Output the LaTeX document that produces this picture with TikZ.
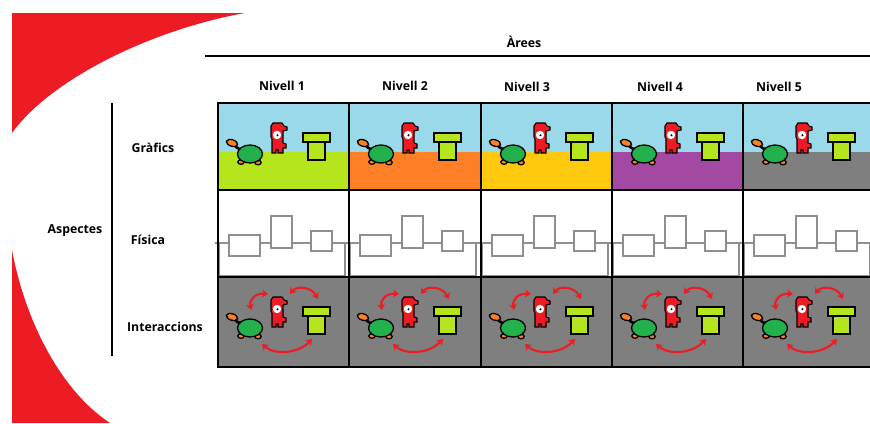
\documentclass[tikz,border=0pt]{standalone}
\usepackage{fontspec}
\setmainfont{Open Sans}
\usetikzlibrary{arrows.meta}

\definecolor{paintred}{HTML}{ED1C24}
\definecolor{sky}{HTML}{99D9EA}
\definecolor{lime}{HTML}{B5E61D}
\definecolor{tangerine}{HTML}{FF7F27}
\definecolor{amber}{HTML}{FFC90E}
\definecolor{plum}{HTML}{A349A4}
\definecolor{slate}{HTML}{7F7F7F}
\definecolor{shellgreen}{HTML}{22B14C}
\definecolor{wire}{HTML}{8E8E8E}

\tikzset{
  headtext/.style={font=\bfseries\fontsize{12.3}{14}\selectfont, inner sep=0pt},
  rulerline/.style={draw=black, line width=2.4pt},
  gridline/.style={draw=black, line width=2.6pt},
  outline/.style={draw=black, line width=1.3pt},
  wireline/.style={draw=wire, line width=2pt},
  bump/.style={draw=paintred, line width=2.1pt, {Stealth[length=6pt,width=8pt]}-{Stealth[length=6pt,width=8pt]}},
  % sprites, drawn in the coordinates of one cell (origin at its top-left corner)
  pics/turtle/.style={code={
    \draw[black, line width=2.6pt, line cap=round] (16,42) .. controls (19,45) and (21,46) .. (24,47);
    \filldraw[fill=tangerine, outline, rotate around={-18:(14,40)}] (14,40) ellipse[x radius=5.8pt, y radius=3.2pt];
    \filldraw[fill=tangerine, outline] (23,59) ellipse[x radius=3.2pt, y radius=2.3pt];
    \filldraw[fill=tangerine, outline] (40,59.5) ellipse[x radius=3.2pt, y radius=2.3pt];
    \filldraw[fill=shellgreen, outline] (32,51) ellipse[x radius=12.5pt, y radius=9pt];
  }},
  pics/hero/.style={code={
    \begin{scope}[shift={(52,20)}]
      \filldraw[fill=paintred, draw=black, line width=1.1pt]
        (1,3) -- (3,0) -- (12,0) -- (14,3) -- (17,4) -- (17,7) -- (13,8) -- (13,20)
        -- (16,21) -- (16,25) -- (13,25) -- (13,30) -- (8,30) -- (8,27) -- (6,27)
        -- (6,30) -- (2,30) -- (2,16) -- (1,14) -- cycle;
      \fill[white] (7,12) circle[radius=4.2pt];
      \fill[black] (7.5,12.3) circle[radius=1.1pt];
    \end{scope}
  }},
  pics/pipe/.style={code={
    \filldraw[fill=lime, outline] (90,39) rectangle (107,57);
    \filldraw[fill=lime, outline] (85,30) rectangle (112,39);
  }},
  pics/bumps/.style={code={
    \draw[bump] (33,33) .. controls (31,22) and (38,16) .. (50,17);
    \draw[bump] (72,17) .. controls (78,9) and (93,9) .. (100,22);
    \draw[bump] (44,67) .. controls (56,78) and (80,77) .. (94,62);
  }},
  pics/blocks/.style={code={
    \draw[wireline] (-3,53) -- (133,53);
    \draw[wireline] (0.5,53) rectangle (127,86);
    \filldraw[wireline, fill=white] (11,45) rectangle (42,66);
    \filldraw[wireline, fill=white] (53,26) rectangle (74,58);
    \filldraw[wireline, fill=white] (93,41) rectangle (114,61);
  }}
}

\begin{document}
\begin{tikzpicture}[x=1pt, y=-1pt]
  \useasboundingbox (0,0) rectangle (870,423);
  \clip (0,0) rectangle (870,423);

  % red decorative swooshes
  \fill[paintred] (12,13) -- (245,13) .. controls (150,30) and (50,80) .. (12,133) -- cycle;
  \fill[paintred] (12,250) .. controls (25,320) and (60,390) .. (110,423) -- (12,423) -- cycle;

  % column heading and rule
  \node[headtext] (areas) at (524,42) {Àrees};
  \coordinate (ruleL) at (205,56);
  \coordinate (ruleR) at (872,56);
  \draw[rulerline] (ruleL) -- (ruleR);

  \node[headtext] (lvl1) at (282,86) {Nivell 1};
  \node[headtext] (lvl2) at (405,86) {Nivell 2};
  \node[headtext] (lvl3) at (527,87) {Nivell 3};
  \node[headtext] (lvl4) at (660,87) {Nivell 4};
  \node[headtext] (lvl5) at (779,87) {Nivell 5};

  % row headings
  \coordinate (barTop) at (112,103);
  \coordinate (barBot) at (112,356);
  \draw[rulerline] (barTop) -- (barBot);
  \node[headtext] (aspects) at (75,231) {Aspectes};
  \node[headtext] (graphics) at (153,148) {Gràfics};
  \node[headtext] (physics) at (148,240) {Física};
  \node[headtext] (interact) at (165,327) {Interaccions};

  % cells, one column per level
  \foreach \cx/\cw/\ground in {218/131/lime, 349/132/tangerine, 481/131/amber, 612/131/plum, 743/131/slate} {
    \begin{scope}[shift={(\cx,103)}]
      \fill[sky] (0,0) rectangle (\cw,49);
      \fill[\ground] (0,49) rectangle (\cw,87);
      \pic {turtle};
      \pic {hero};
      \pic {pipe};
    \end{scope}
    \begin{scope}[shift={(\cx,190)}]
      \fill[white] (0,0) rectangle (\cw,87);
      \pic {blocks};
    \end{scope}
    \begin{scope}[shift={(\cx,277)}]
      \fill[slate] (0,0) rectangle (\cw,90);
      \pic {turtle};
      \pic {hero};
      \pic {pipe};
      \pic {bumps};
    \end{scope}
  }

  % grid
  \draw[gridline] (218,103) rectangle (880,367);
  \draw[gridline] (218,190) -- (880,190);
  \draw[gridline] (218,277) -- (880,277);
  \foreach \vx in {349,481,612,743} {
    \draw[gridline] (\vx,103) -- (\vx,367);
  }
\end{tikzpicture}
\end{document}
